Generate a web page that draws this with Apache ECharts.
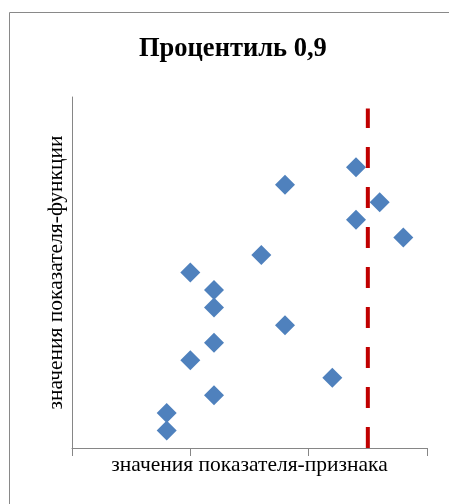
<!DOCTYPE html>
<html><head><meta charset="utf-8">
<script src="https://cdn.jsdelivr.net/npm/echarts@6/dist/echarts.min.js"></script>
<style>html,body{margin:0;padding:0;background:#fff}#c{width:449px;height:504px}</style>
</head><body><div id="c"></div>
<script>
const titleText = 'Процентиль 0,9';
const xAxisName = 'значения показателя-признака';
const yAxisName = 'значения показателя-функции';
const xValues = [8, 8, 12, 22, 10, 12, 18, 12, 12, 10, 16, 28, 24, 26, 18, 24];
const yValues = [1, 2, 3, 4, 5, 6, 7, 8, 9, 10, 11, 12, 13, 14, 15, 16];
const percentileX = [25, 25];
const percentileY = [0, 19.35];
const xRange = [0, 30];
const yRange = [0, 20];

const font = '"Liberation Serif", "Times New Roman", serif';
const chart = echarts.init(document.getElementById('c'), null, {renderer: 'canvas'});
chart.setOption({
  animation: false,
  backgroundColor: '#fff',
  title: {
    text: titleText, left: 134, top: 31,
    textStyle: {fontFamily: font, fontSize: 26.5, fontWeight: 'bold', color: '#000'}
  },
  graphic: [{
    type: 'rect', shape: {x: 9.5, y: 12.5, width: 480, height: 540},
    style: {fill: null, stroke: '#898989', lineWidth: 1}, silent: true
  }],
  grid: {left: 72, right: 22, top: 97, bottom: 56},
  xAxis: {
    type: 'value', min: xRange[0], max: xRange[1], interval: 10,
    name: xAxisName, nameLocation: 'middle', nameGap: 6,
    nameTextStyle: {fontFamily: font, fontSize: 21.5, color: '#000', verticalAlign: 'top'},
    axisLine: {show: true, lineStyle: {color: '#868686', width: 1}},
    axisTick: {show: true, length: 8, lineStyle: {color: '#868686'}},
    axisLabel: {show: false},
    splitLine: {show: false}
  },
  yAxis: {
    type: 'value', min: yRange[0], max: yRange[1], interval: 20,
    name: yAxisName, nameLocation: 'middle', nameGap: 5,
    nameTextStyle: {fontFamily: font, fontSize: 21.5, color: '#000'},
    axisLine: {show: true, lineStyle: {color: '#868686', width: 1}},
    axisTick: {show: false},
    axisLabel: {show: false},
    splitLine: {show: false}
  },
  series: [{
    type: 'scatter', symbol: 'diamond', symbolSize: 20,
    itemStyle: {color: '#4F81BD', opacity: 1},
    data: xValues.map((x, i) => [x, yValues[i]]), z: 2
  }, {
    type: 'line', symbol: 'none',
    lineStyle: {color: '#C00000', width: 4, type: [21, 19], cap: 'butt'},
    data: percentileX.map((x, i) => [x, percentileY[i]]), z: 3
  }]
});
</script></body></html>
